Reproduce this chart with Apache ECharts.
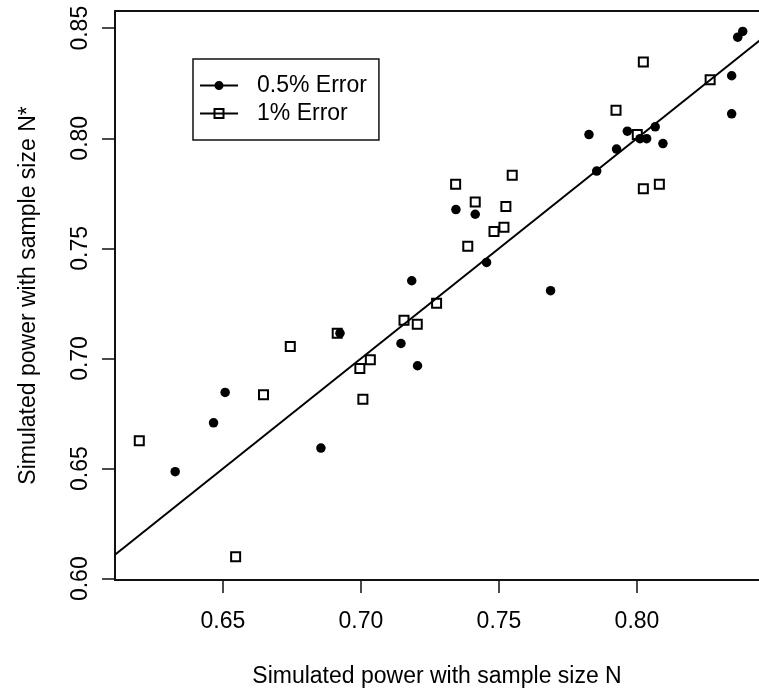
<!DOCTYPE html>
<html>
<head>
<meta charset="utf-8">
<script src="https://cdn.jsdelivr.net/npm/echarts@6/dist/echarts.min.js"></script>
<style>
html,body{margin:0;padding:0;background:#fff;}
#chart{width:759px;height:693px;}
</style>
</head>
<body>
<div id="chart"></div>
<script>
// Series names
const seriesNames = ['0.5% Error', '1% Error'];

// 0.5% Error (filled circles)
const dotsX = [0.8383,0.8365,0.8343,0.8343,0.7826,0.7965,0.8066,0.7926,0.8011,0.8035,0.8094,0.7854,0.7344,0.7414,0.7455,0.7687,0.7184,0.6327,0.6466,0.6508,0.6924,0.6855,0.7145,0.7205];
const dotsY = [0.8485,0.8459,0.8284,0.8111,0.8017,0.8032,0.8052,0.7951,0.7998,0.7998,0.7976,0.7851,0.7676,0.7655,0.7436,0.7308,0.7353,0.6486,0.6708,0.6846,0.7115,0.6593,0.7068,0.6967];

// 1% Error (open squares)
const squaresX = [0.8023,0.7924,0.8265,0.8001,0.7343,0.7548,0.7414,0.7525,0.7482,0.7518,0.7387,0.8023,0.8081,0.6197,0.6647,0.6744,0.6914,0.6546,0.6996,0.7034,0.7007,0.7156,0.7204,0.7274];
const squaresY = [0.8346,0.8127,0.8266,0.8017,0.7791,0.7832,0.7711,0.7690,0.7577,0.7596,0.7510,0.7771,0.7791,0.6626,0.6835,0.7054,0.7115,0.6100,0.6954,0.6994,0.6815,0.7174,0.7156,0.7251];

// Tick labels
const xTicks = [0.65, 0.70, 0.75, 0.80];
const yTicks = [0.60, 0.65, 0.70, 0.75, 0.80, 0.85];

// Axis ranges
const xRange = [0.6109, 0.8442];
const yRange = [0.5994, 0.8578];

// Reference line y = x (endpoints)
const refLine = [0.59, 0.87];

const FONT = '"Liberation Sans", Arial, sans-serif';
const INK = '#111';

const chart = echarts.init(document.getElementById('chart'), null, {renderer: 'canvas'});

const dotIcon = 'path://M0,0 L0.01,0 L0.01,0.01 Z M0,10.99 L0.01,10.99 L0.01,11 Z M0,4.5 L38,4.5 L38,6.5 L0,6.5 Z M23.5,5.5 A4.5,4.5 0 1 1 14.5,5.5 A4.5,4.5 0 1 1 23.5,5.5 Z';
const sqIcon = 'path://M0,4.5 L38,4.5 L38,6.5 L0,6.5 Z M13.5,0 L24.5,0 L24.5,11 L13.5,11 Z M15.5,2 L15.5,9 L22.5,9 L22.5,2 Z';

const fmt = v => v.toFixed(2);

const option = {
  animation: false,
  backgroundColor: '#fff',
  textStyle: {fontFamily: FONT},
  grid: {left: 115, top: 11, right: 0, bottom: 111, containLabel: false},
  legend: {
    orient: 'vertical',
    left: 193, top: 59,
    borderColor: INK, borderWidth: 1.5,
    padding: [15, 12, 15, 7],
    itemGap: 5,
    itemWidth: 38, itemHeight: 11,
    textStyle: {fontSize: 23, color: '#000', fontFamily: FONT, padding: [0, 0, 0, 14]},
    data: [
      {name: seriesNames[0], icon: dotIcon, itemStyle: {color: '#000', borderWidth: 0, opacity: 1}},
      {name: seriesNames[1], icon: sqIcon, itemStyle: {color: '#000', borderWidth: 0, opacity: 1}}
    ]
  },
  xAxis: [
    {
      type: 'value', position: 'bottom', min: xRange[0], max: xRange[1],
      name: 'Simulated power with sample size N',
      nameLocation: 'middle', nameGap: 85,
      nameTextStyle: {fontSize: 23, color: '#000', fontFamily: FONT},
      axisLine: {show: true, onZero: false, lineStyle: {color: INK, width: 2}},
      axisTick: {show: true, length: 13, customValues: xTicks, lineStyle: {color: INK, width: 1.5}},
      axisLabel: {customValues: xTicks, formatter: fmt, fontSize: 23, color: '#000', margin: 30, fontFamily: FONT},
      splitLine: {show: false}
    },
    {
      type: 'value', position: 'top', min: xRange[0], max: xRange[1],
      axisLine: {show: true, onZero: false, lineStyle: {color: INK, width: 2}},
      axisTick: {show: false}, axisLabel: {show: false}, splitLine: {show: false}
    }
  ],
  yAxis: {
    type: 'value', position: 'left', min: yRange[0], max: yRange[1],
    name: 'Simulated power with sample size N*',
    nameLocation: 'middle', nameGap: 75,
    nameTextStyle: {fontSize: 23, color: '#000', fontFamily: FONT},
    axisLine: {show: true, onZero: false, lineStyle: {color: INK, width: 2}},
    axisTick: {show: true, length: 13, customValues: yTicks, lineStyle: {color: INK, width: 1.5}},
    axisLabel: {customValues: yTicks, formatter: fmt, rotate: 90, fontSize: 23, color: '#000', margin: 23, fontFamily: FONT},
    splitLine: {show: false}
  },
  series: [
    {
      name: seriesNames[0], type: 'scatter', symbol: 'circle', symbolSize: 9.5,
      itemStyle: {color: '#000', opacity: 1},
      data: dotsX.map((x, i) => [x, dotsY[i]]),
      z: 3
    },
    {
      name: seriesNames[1], type: 'scatter', symbol: 'rect', symbolSize: 9,
      itemStyle: {color: 'rgba(255,255,255,0)', borderColor: '#000', borderWidth: 2, opacity: 1},
      data: squaresX.map((x, i) => [x, squaresY[i]]),
      z: 2
    },
    {
      name: 'identity', type: 'line', showSymbol: false, symbol: 'none',
      lineStyle: {color: '#000', width: 2},
      data: [[refLine[0], refLine[0]], [refLine[1], refLine[1]]],
      clip: true, silent: true, z: 4
    }
  ]
};

chart.setOption(option);
</script>
</body>
</html>
